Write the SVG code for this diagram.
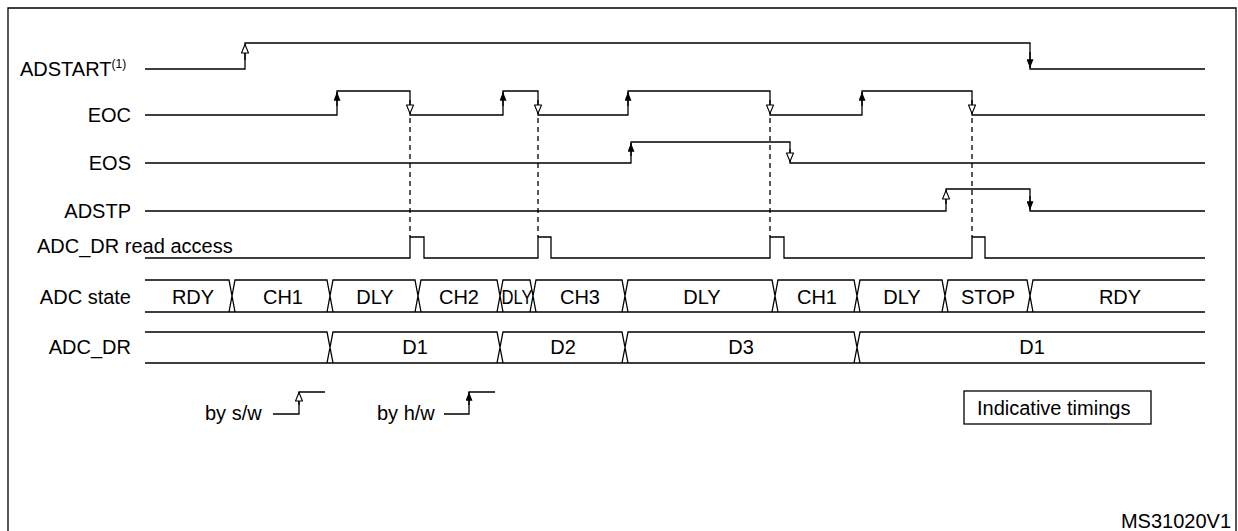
<svg xmlns="http://www.w3.org/2000/svg" width="1238" height="531" viewBox="0 0 1238 531">
<defs>
<style>
.s{fill:none;stroke:#000;stroke-width:1.3}
.d{fill:none;stroke:#000;stroke-width:1.3;stroke-dasharray:5,4}
text{font-family:"Liberation Sans",Arial,sans-serif;font-size:20px;fill:#000}
.c{text-anchor:middle}
.r{text-anchor:end}
</style>
<marker id="ao" viewBox="0 0 10 8" refX="10" refY="4" markerWidth="10" markerHeight="8" markerUnits="userSpaceOnUse" orient="auto"><path d="M1,0.5 L9.5,4 L1,7.5 Z" fill="#fff" stroke="#000" stroke-width="1.1"/></marker>
<marker id="as" viewBox="0 0 10 8" refX="10" refY="4" markerWidth="10" markerHeight="7" markerUnits="userSpaceOnUse" orient="auto"><path d="M0,0 L10,4 L0,8 Z" fill="#000"/></marker>
</defs>
<rect width="1238" height="531" fill="#fff"/>
<path class="s" d="M8,540 V8 H1236 V540" stroke-width="2"/>
<g id="labels">
<text x="20" y="76">ADSTART<tspan font-size="12" dy="-8">(1)</tspan></text>
<text x="131" y="122" class="r">EOC</text>
<text x="131" y="170" class="r">EOS</text>
<text x="131" y="218" class="r">ADSTP</text>
<text x="37" y="253">ADC_DR read access</text>
<text x="131" y="304" class="r">ADC state</text>
<text x="131" y="354" class="r">ADC_DR</text>
</g>
<g id="connectors">
<path class="s" d="M145,69 H245 V43 H1030 V69 H1205"/>
<path class="s" d="M145,115 H337 V91 H410 V115 H503 V91 H538 V115 H628 V91 H770 V115 H862 V91 H972 V115 H1205"/>
<path class="s" d="M145,163 H631 V142 H790 V163 H1205"/>
<path class="s" d="M145,211 H946 V189 H1030 V211 H1205"/>
<path class="s" d="M145,258 H410 V237 H424 V258 H538 V237 H551 V258 H770 V237 H784 V258 H972 V237 H985 V258 H1205"/>
<path class="d" d="M410,118 V237 M538,118 V237 M770,118 V237 M972,118 V237"/>
<path class="s" marker-end="url(#ao)" d="M245,60 V44"/>
<path class="s" marker-end="url(#as)" d="M1030,52 V68"/>
<path class="s" marker-end="url(#as)" d="M337,106 V92"/>
<path class="s" marker-end="url(#ao)" d="M410,100 V114"/>
<path class="s" marker-end="url(#as)" d="M503,106 V92"/>
<path class="s" marker-end="url(#ao)" d="M538,100 V114"/>
<path class="s" marker-end="url(#as)" d="M628,106 V92"/>
<path class="s" marker-end="url(#ao)" d="M770,100 V114"/>
<path class="s" marker-end="url(#as)" d="M862,106 V92"/>
<path class="s" marker-end="url(#ao)" d="M972,100 V114"/>
<path class="s" marker-end="url(#as)" d="M631,156 V143"/>
<path class="s" marker-end="url(#ao)" d="M790,149 V162"/>
<path class="s" marker-end="url(#ao)" d="M946,204 V190"/>
<path class="s" marker-end="url(#as)" d="M1030,196 V210"/>
</g>
<g id="adc_state">
<path class="s" d="M145,280 H229 L235,312 H145 M229,312 L235,280 H327 L333,312 H235 M327,312 L333,280 H415 L421,312 H333 M415,312 L421,280 H497 L503,312 H421 M497,312 L503,280 H530 L536,312 H503 M530,312 L536,280 H622 L628,312 H536 M622,312 L628,280 H772 L778,312 H628 M772,312 L778,280 H854 L860,312 H778 M854,312 L860,280 H942 L948,312 H860 M942,312 L948,280 H1027 L1033,312 H948 M1027,312 L1033,280 H1205 M1033,312 H1205"/>
<text x="193" y="304" class="c">RDY</text>
<text x="283" y="304" class="c">CH1</text>
<text x="375" y="304" class="c">DLY</text>
<text x="459" y="304" class="c">CH2</text>
<text x="517" y="304" class="c" textLength="31" lengthAdjust="spacingAndGlyphs">DLY</text>
<text x="580" y="304" class="c">CH3</text>
<text x="702" y="304" class="c">DLY</text>
<text x="817" y="304" class="c">CH1</text>
<text x="902" y="304" class="c">DLY</text>
<text x="988" y="304" class="c">STOP</text>
<text x="1120" y="304" class="c">RDY</text>
</g>
<g id="adc_dr">
<path class="s" d="M145,332 H327 L333,363 H145 M327,363 L333,332 H497 L503,363 H333 M497,363 L503,332 H622 L628,363 H503 M622,363 L628,332 H854 L860,363 H628 M854,363 L860,332 H1205 M860,363 H1205"/>
<text x="415" y="354" class="c">D1</text>
<text x="563" y="354" class="c">D2</text>
<text x="741" y="354" class="c">D3</text>
<text x="1032" y="354" class="c">D1</text>
</g>
<g id="legend">
<text x="205" y="420" font-size="19">by s/w</text>
<path class="s" d="M273,414 H299 V392 H325"/>
<path class="s" marker-end="url(#ao)" d="M299,405 V392"/>
<text x="377" y="420" font-size="19">by h/w</text>
<path class="s" d="M444,414 H469 V392 H495"/>
<path class="s" marker-end="url(#as)" d="M469,405 V392"/>
</g>
<g id="note">
<rect x="964" y="391" width="187" height="33" fill="none" stroke="#000" stroke-width="1.3"/>
<text x="977" y="415" font-size="19">Indicative timings</text>
<text x="1231" y="528" class="r" font-size="14">MS31020V1</text>
</g>
</svg>
